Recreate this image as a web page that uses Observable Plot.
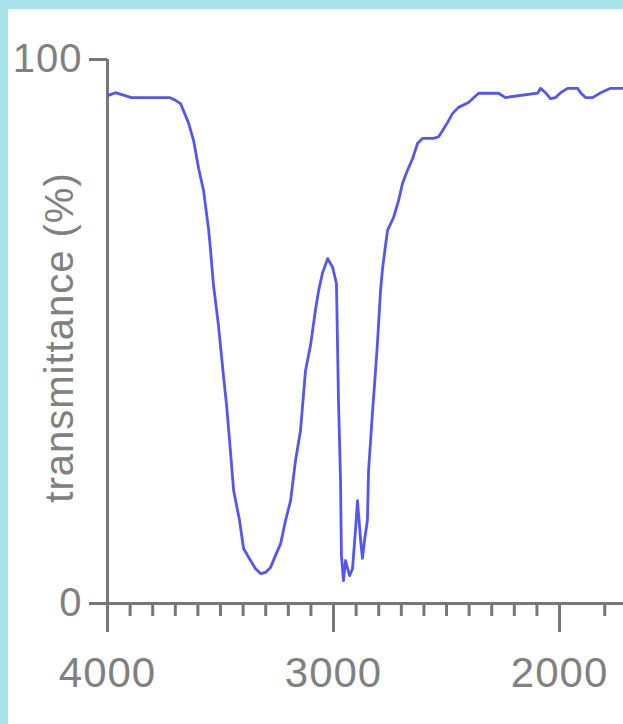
<!DOCTYPE html>
<html><head><meta charset="utf-8">
<script src="https://cdn.jsdelivr.net/npm/d3@7"></script>
<script src="https://cdn.jsdelivr.net/npm/@observablehq/plot@0.6"></script>
<style>
html,body{margin:0;padding:0;background:#a9e3eb;width:623px;height:724px;overflow:hidden;}
#frame{position:absolute;left:8px;top:9px;width:615px;height:715px;background:#fff;}
svg{display:block}
</style></head><body><div id="frame"></div>
<script>
const wavenumber = [3996,3965,3894,3726,3699,3677,3642,3619,3597,3575,3562,3553,3544,3531,3509,3487,3473,3460,3442,3416,3398,3367,3345,3323,3301,3279,3257,3234,3212,3190,3168,3146,3124,3102,3080,3066,3049,3026,3004,2987,2978,2969,2965,2956,2947,2929,2916,2903,2894,2880,2872,2863,2850,2845,2827,2814,2805,2792,2783,2770,2761,2734,2712,2695,2673,2650,2628,2606,2557,2535,2518,2496,2473,2447,2403,2358,2270,2239,2208,2097,2084,2062,2040,2018,1995,1964,1920,1907,1885,1854,1818,1774,1721];
const transmittance = [93.4,93.9,93.0,93.0,92.5,91.9,88.4,85.1,80.0,75.9,71.7,68.9,64.9,58.5,51.1,41.9,36.4,30.0,20.8,15.3,10.1,7.9,6.4,5.5,5.7,6.6,8.8,11.0,15.3,18.9,26.3,31.8,42.8,47.4,53.9,57.5,60.7,63.4,61.8,58.8,37.3,22.6,8.8,4.2,7.9,5.1,6.4,13.4,18.9,11.6,8.3,11.6,15.3,24.4,35.5,42.8,48.3,57.5,61.6,65.8,68.6,71.0,74.1,77.2,79.6,81.8,84.6,85.5,85.5,85.8,86.9,88.4,90.1,91.2,92.1,93.8,93.8,93.0,93.2,93.8,94.7,93.9,92.8,93.0,93.9,94.7,94.7,93.9,93.0,93.0,93.9,94.7,94.7];
const yTicks = [0, 100];
const majorTicks = [4000, 3000, 2000];
const minorTicks = [3900,3800,3700,3600,3500,3400,3300,3200,3100,2900,2800,2700,2600,2500,2400,2300,2200,2100,1800];
const yLabel = "transmittance (%)";

const data = wavenumber.map((w, i) => ({w, t: transmittance[i]}));
const gray = "#777";
const textGray = "#808080";
const chart = Plot.plot({
  width: 615, height: 715,
  marginLeft: 99, marginRight: 0, marginTop: 50, marginBottom: 121,
  style: {background: "#fff", fontFamily: "'Liberation Sans', Arial, sans-serif", overflow: "visible"},
  x: {domain: [4000, 1717], axis: null},
  y: {domain: [0, 100], axis: null},
  marks: [
    Plot.ruleY([0], {stroke: gray, strokeWidth: 3}),
    Plot.ruleX([4000], {stroke: gray, strokeWidth: 3}),
    Plot.axisY({ticks: yTicks, tickSize: 18, tickPadding: 7, fontSize: 40, stroke: gray, fill: textGray, strokeWidth: 3, label: null}),
    Plot.axisX({ticks: majorTicks, tickFormat: "d", tickSize: 29, tickPadding: 25, fontSize: 42, stroke: gray, fill: textGray, strokeWidth: 3, label: null}),
    Plot.axisX({ticks: minorTicks, tickSize: 13, tickFormat: () => "", stroke: gray, strokeWidth: 3, label: null}),
    Plot.text([yLabel], {frameAnchor: "left", dx: -47, dy: 6, rotate: -90, fontSize: 40, fill: textGray, textAnchor: "middle", lineAnchor: "middle"}),
    Plot.line(data, {x: "w", y: "t", stroke: "#5555f2", strokeWidth: 2.8})
  ]
});
chart.querySelectorAll("text").forEach(t => t.style.letterSpacing = "1px");
document.getElementById("frame").appendChild(chart);
</script></body></html>
